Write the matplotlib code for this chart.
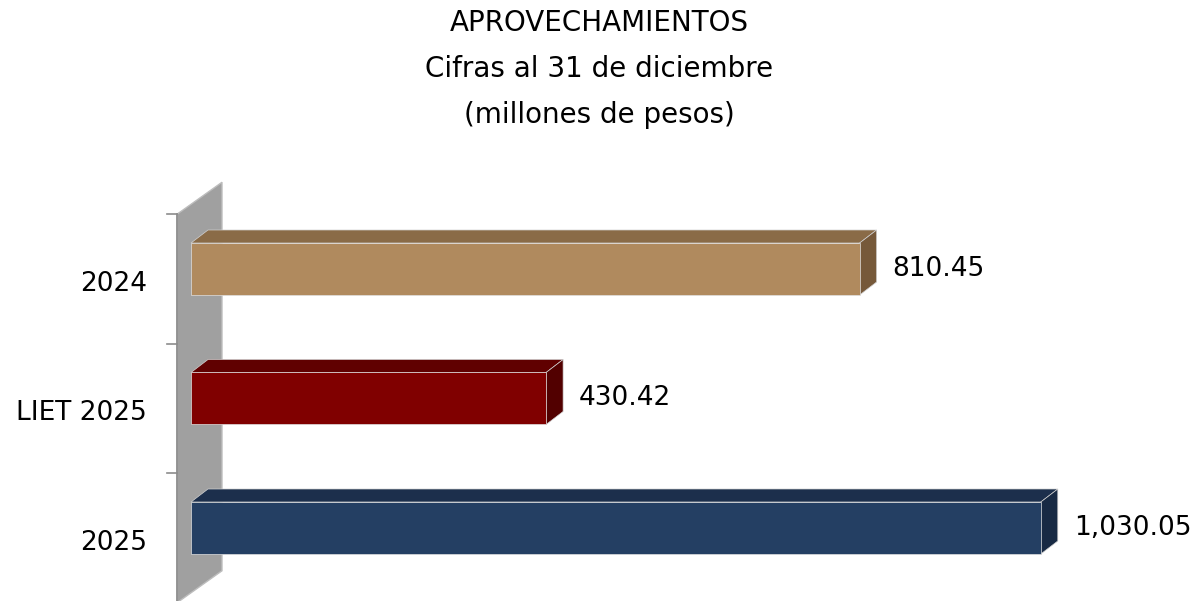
import matplotlib
matplotlib.use("Agg")
import matplotlib.pyplot as plt
from matplotlib.patches import Polygon

# data
categories = ["2024", "LIET 2025", "2025"]
values = [810.45, 430.42, 1030.05]
value_labels = ["810.45", "430.42", "1,030.05"]
title_lines = ["APROVECHAMIENTOS", "Cifras al 31 de diciembre", "(millones de pesos)"]

front_colors = ["#b08a5e", "#800000", "#243f63"]
top_colors = ["#8a6b47", "#600000", "#1c2f4c"]
side_colors = ["#76593a", "#520000", "#182a44"]

W, H, DPI = 1199, 601, 100
fig = plt.figure(figsize=(W / DPI, H / DPI), dpi=DPI)
ax = fig.add_axes([0, 0, 1, 1])

# layout in pixels: value 0 at x0, first category centre at y0
x0, px_per_unit = 191, 0.825
y0, px_per_cat = 269, 129.5
ax.set_xlim(-x0 / px_per_unit, (W - x0) / px_per_unit)
ax.set_ylim((H - y0) / px_per_cat, -y0 / px_per_cat)
ax.axis("off")

def dx(px):
    return px / px_per_unit

def dy(px):
    return px / px_per_cat

# back wall
wall_x = dx(-14)
shift = dy(10)
wtop, wbot = -0.5 + shift, 2.5 + shift
wdx, wdy = dx(45), dy(-32)
wall = Polygon([(wall_x, wtop), (wall_x + wdx, wtop + wdy), (wall_x + wdx, wbot + wdy),
                (wall_x, wbot)], closed=True, facecolor="#a0a0a0", edgecolor="#bdbdbd",
               linewidth=1, zorder=1)
ax.add_patch(wall)
ax.plot([wall_x, wall_x], [wtop, wbot], color="#8c8c8c", lw=1.2, zorder=2)
for k in range(len(categories) + 1):
    yt = -0.5 + k + shift
    ax.plot([wall_x - dx(10), wall_x], [yt, yt], color="#8c8c8c", lw=1.2, zorder=2)

# bars with a simple 3d look
h = dy(52)
bdx, bdy = dx(17), dy(-13)
ys = list(range(len(categories)))
ax.barh(ys, values, height=h, left=0, color=front_colors, edgecolor="#e0e0e0",
        linewidth=0.5, zorder=4)
for i, v in enumerate(values):
    top = i - h / 2
    bot = i + h / 2
    ax.add_patch(Polygon([(0, top), (v, top), (v + bdx, top + bdy), (bdx, top + bdy)],
                         closed=True, facecolor=top_colors[i], edgecolor="#d0d0d0",
                         linewidth=0.5, zorder=3))
    ax.add_patch(Polygon([(v, top), (v, bot), (v + bdx, bot + bdy), (v + bdx, top + bdy)],
                         closed=True, facecolor=side_colors[i], edgecolor="#d0d0d0",
                         linewidth=0.5, zorder=3))
    ax.text(v + bdx + dx(16), i + dy(7), value_labels[i], fontsize=19, color="black",
            ha="left", va="baseline", zorder=5)
    ax.text(dx(-44), i + dy(22), categories[i], fontsize=19, color="black",
            ha="right", va="baseline", zorder=5)

# title
for k, line in enumerate(title_lines):
    fig.text(0.5, 1 - (31 + 46 * k) / H, line, fontsize=20, color="black",
             ha="center", va="baseline")

fig.savefig("out.png", dpi=DPI, facecolor="white")
